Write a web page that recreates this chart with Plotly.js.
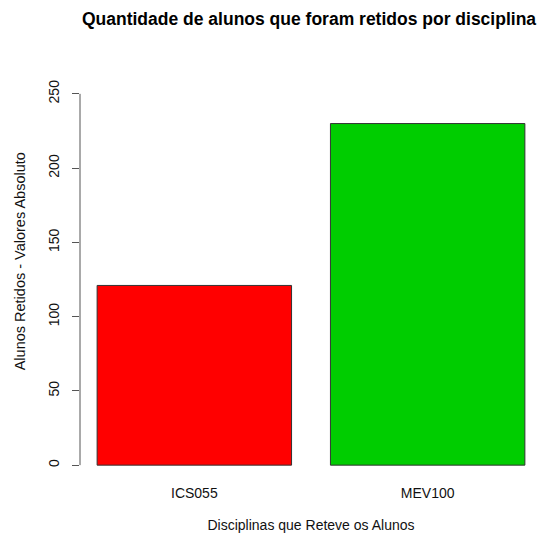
<!DOCTYPE html>
<html><head><meta charset="utf-8">
<script src="https://cdn.plot.ly/plotly-3.0.1.min.js"></script>
<style>html,body{margin:0;padding:0;background:#fff}#chart{width:545px;height:533px}</style>
</head><body><div id="chart"></div>
<script>
const categories = ["ICS055", "MEV100"];
const values = [121, 230];
const barColors = ["#FF0000", "#00CD00"];
const yTicks = [0, 50, 100, 150, 200, 250];
const chartTitle = "Quantidade de alunos que foram retidos por disciplina";
const xTitle = "Disciplinas que Reteve os Alunos";
const yTitle = "Alunos Retidos - Valores Absoluto";

const font = "Liberation Sans, Arial, sans-serif";
const trace = {
  type: "bar", x: categories, y: values,
  marker: {color: barColors, line: {color: "#333", width: 1}},
  hoverinfo: "x+y"
};
const layout = {
  width: 545, height: 533,
  margin: {l: 80, r: 3, t: 79, b: 53},
  paper_bgcolor: "#fff", plot_bgcolor: "#fff",
  bargap: 0.1667,
  showlegend: false,
  title: {text: "<b>" + chartTitle + "</b>",
          font: {family: font, size: 17.5, color: "#000"}, x: 0.567, xanchor: "center", y: 0.964, yanchor: "middle"},
  xaxis: {type: "category", range: [-0.49, 1.49], showline: false, ticks: "", showgrid: false, zeroline: false,
          tickfont: {family: font, size: 14, color: "#111"},
          title: {text: xTitle, font: {family: font, size: 14, color: "#111"}, standoff: 20},
          automargin: false, ticklabelstandoff: 3},
  yaxis: {range: [-10, 260], tickvals: yTicks, ticktext: yTicks.map(String), tickangle: -90,
          showline: false, ticks: "outside", ticklen: 7, tickcolor: "#555", tickwidth: 1,
          showgrid: false, zeroline: false,
          tickfont: {family: font, size: 14, color: "#111"}, ticklabelstandoff: 7,
          automargin: false},
  annotations: [{text: yTitle, xref: "paper", yref: "paper", x: -0.128, y: 0.545, xanchor: "center", yanchor: "middle",
                 textangle: -90, showarrow: false, font: {family: font, size: 14.5, color: "#111"}}],
  shapes: [{type: "line", xref: "paper", yref: "y", x0: 0, x1: 0, y0: yTicks[0], y1: yTicks[yTicks.length-1],
            line: {color: "#555", width: 1}}]
};
Plotly.newPlot("chart", [trace], layout, {displayModeBar: false, staticPlot: true});
</script></body></html>
